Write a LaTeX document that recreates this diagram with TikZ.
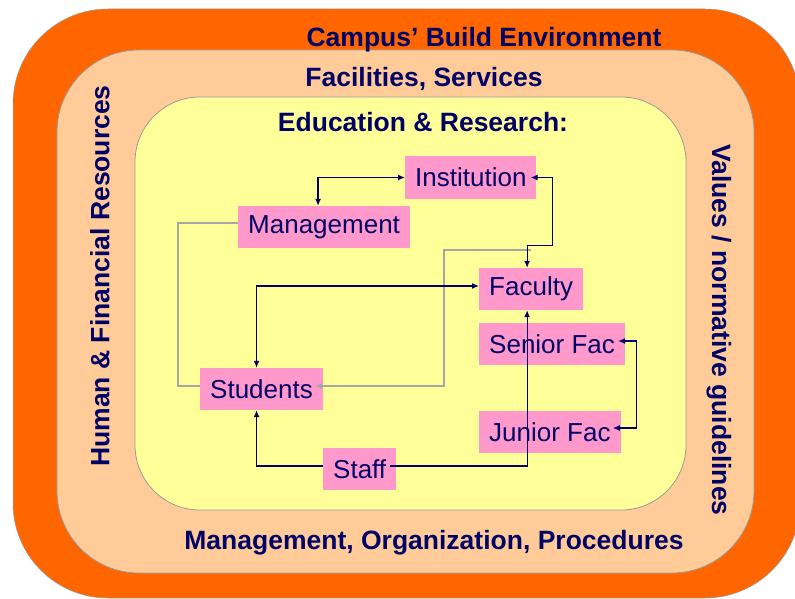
\documentclass[tikz,border=0pt]{standalone}
\usepackage{fontspec}
\setmainfont{Liberation Sans}
\usetikzlibrary{arrows.meta}
\definecolor{orng}{HTML}{FF6600}
\definecolor{peach}{HTML}{FFCC99}
\definecolor{lyel}{HTML}{FFFF99}
\definecolor{pinkbox}{HTML}{FF99CC}
\definecolor{navy}{HTML}{000066}
\definecolor{edgegray}{HTML}{999999}
\definecolor{lgray}{HTML}{A6A6A6}
\begin{document}
\begin{tikzpicture}[x=1pt,y=-1pt,
  title/.style={font=\fontsize{26.5}{30}\selectfont\bfseries, text=navy, inner sep=0pt},
  box/.style={fill=pinkbox, font=\fontsize{26}{30}\selectfont, text=navy, anchor=west,
    minimum height=42pt, inner xsep=10pt, inner ysep=0pt},
  link/.style={draw=navy, line width=1.2pt, arrows={-Latex[length=7pt,width=6pt]}},
  dlink/.style={draw=navy, line width=1.2pt, arrows={Latex[length=7pt,width=6pt]-Latex[length=7pt,width=6pt]}},
  glink/.style={draw=lgray, line width=1.5pt},
  garrow/.style={glink, arrows={-Latex[length=7pt,width=6pt]}}]
\useasboundingbox (0,0) rectangle (795,599);
% layers
\path[fill=orng, draw=edgegray, line width=0.5pt, rounded corners=95pt] (13,9) rectangle (800,598);
\path[fill=peach, draw=edgegray, line width=0.8pt, rounded corners=82pt] (57,50) rectangle (754,573);
\path[fill=lyel, draw=edgegray, line width=0.8pt, rounded corners=65pt] (135,97) rectangle (686,510);
% titles
\node[title] (t1) at (484,40) {Campus’ Build Environment};
\node[title] (t2) at (424,79) {Facilities, Services};
\node[title] (t3) at (423,122) {Education \& Research:};
\node[title] (t4) at (434,543) {Management, Organization, Procedures};
\node[title, rotate=90] (t5) at (100,276) {Human \& Financial Resources};
\node[title, rotate=-90] (t6) at (719,330) {Values / normative guidelines};
% boxes
\node[box] (inst) at (405,177.5) {Institution};
\node[box] (mgmt) at (238,227) {Management};
\node[box] (fac) at (479,289) {Faculty};
\node[box] (sen) at (479,344) {Senior Fac};
\node[box] (stu) at (200,389) {Students};
\node[box] (jun) at (479,432) {Junior Fac};
\node[box] (staff) at (323,469) {Staff};
% gray connectors
\coordinate (g1) at (531,250);
\draw[glink] ([yshift=4pt]mgmt.west) -- ++(-60,0) |- ([yshift=3pt]stu.west);
\draw[garrow] (g1) -- ++(-87,0) |- ([xshift=-8pt,yshift=3pt]stu.east);
% navy connectors
\draw[dlink] (inst.west) -| ([xshift=-6pt]mgmt.north);
\draw[dlink] ([xshift=-6pt]inst.east) -- ++(22,0) |- ([xshift=-4pt,yshift=22pt]fac.north) -- ([xshift=-4pt]fac.north);
\draw[dlink] ([yshift=3pt]fac.west) -| ([xshift=-5pt]stu.north);
\draw[link] ([yshift=3pt]staff.west) -| ([xshift=-5pt]stu.south);
\draw[link] ([xshift=-6pt,yshift=3pt]staff.east) -| ([xshift=-4pt]fac.south);
\draw[dlink] ([xshift=-7pt,yshift=3pt]sen.east) -- ++(18,0) |- ([xshift=-8pt,yshift=4pt]jun.east);
\end{tikzpicture}
\end{document}
